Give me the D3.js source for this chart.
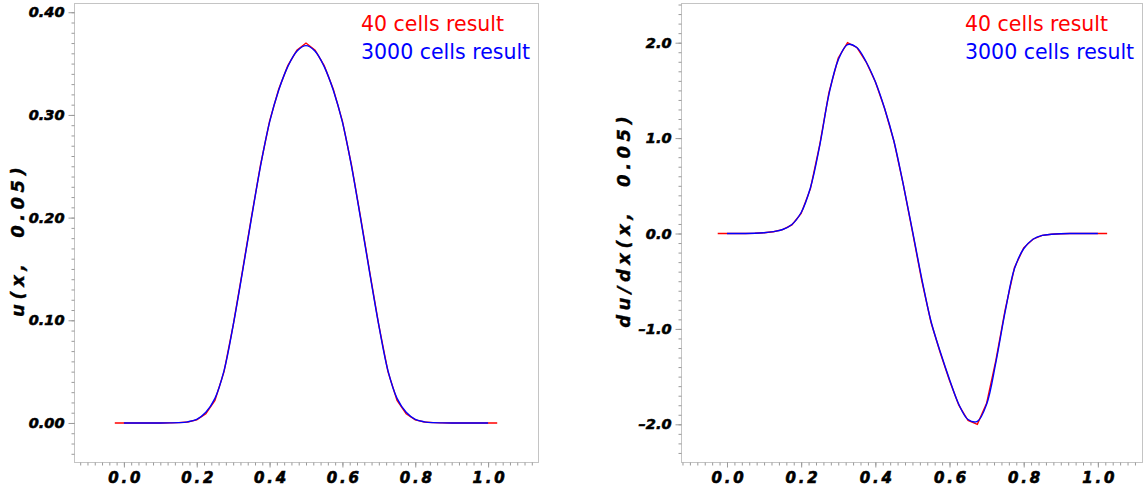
<!DOCTYPE html>
<html><head><meta charset="utf-8">
<script src="https://cdn.jsdelivr.net/npm/d3@7"></script>
<style>body{margin:0;background:#fff}svg{display:block}</style>
</head><body>
<svg id="c" width="1146" height="493"></svg>
<script>
// ---------- data ----------
const xRed  = [-0.025,0,0.025,0.05,0.075,0.1,0.125,0.15,0.175,0.2,0.225,0.25,0.275,0.3,0.325,0.35,0.375,0.4,0.425,0.45,0.475,0.5,
               0.525,0.55,0.575,0.6,0.625,0.65,0.675,0.7,0.725,0.75,0.775,0.8,0.825,0.85,0.875,0.9,0.925,0.95,0.975,1.0,1.025];
const xBlue = [0,0.025,0.05,0.075,0.1,0.125,0.15,0.175,0.2,0.225,0.25,0.275,0.3,0.325,0.35,0.375,0.4,0.425,0.45,0.475,0.5,
               0.525,0.55,0.575,0.6,0.625,0.65,0.675,0.7,0.725,0.75,0.775,0.8,0.825,0.85,0.875,0.9,0.925,0.95,0.975,1.0];

// u(x, 0.05)
const uRed  = [0, 0,0,0,0,0,0.0001,0.0003,0.0010,0.0030,0.0090,0.0220,0.0500,0.0950,0.1470,0.2000,0.2510,0.2940,0.3250,0.3480,0.3630,0.3700,
               0.3630,0.3480,0.3250,0.2940,0.2510,0.2000,0.1470,0.0950,0.0500,0.0220,0.0090,0.0030,0.0010,0.0003,0.0001,0,0,0,0,0, 0];
const uBlue = [0,0,0,0,0,0.0001,0.0003,0.0011,0.0036,0.0105,0.0240,0.0510,0.0950,0.1460,0.1990,0.2500,0.2930,0.3240,0.3470,0.3620,0.3675,
               0.3620,0.3470,0.3240,0.2930,0.2500,0.1990,0.1460,0.0950,0.0510,0.0240,0.0105,0.0036,0.0011,0.0003,0.0001,0,0,0,0,0];

// du/dx(x, 0.05)
const dRed  = [0, 0,0,0,0.002,0.008,0.018,0.040,0.090,0.21,0.47,0.93,1.48,1.84,2.00,1.95,1.80,1.59,1.31,0.97,0.52,0.02,
               -0.49,-0.93,-1.25,-1.54,-1.80,-1.96,-2.00,-1.78,-1.33,-0.80,-0.36,-0.15,-0.06,-0.02,-0.008,-0.002,0,0,0,0, 0];
const dBlue = [0,0,0,0.002,0.008,0.020,0.042,0.095,0.22,0.48,0.92,1.46,1.82,1.98,1.95,1.80,1.59,1.31,0.97,0.52,0.03,
               -0.47,-0.92,-1.24,-1.53,-1.79,-1.95,-1.97,-1.79,-1.35,-0.82,-0.37,-0.16,-0.06,-0.02,-0.008,-0.002,0,0,0,0];

const xTickValues = [0,0.2,0.4,0.6,0.8,1.0];
const xTickLabels = ["0.0","0.2","0.4","0.6","0.8","1.0"];
const uTickValues = [0,0.1,0.2,0.3,0.4];
const uTickLabels = ["0.00","0.10","0.20","0.30","0.40"];
const dTickValues = [-2,-1,0,1,2];
const dTickLabels = ["\u20132.0","\u20131.0","0.0","1.0","2.0"];
const seriesNames = ["40 cells result","3000 cells result"];
const seriesColors = ["#ff0000","#0000ff"];

// ---------- drawing ----------
const svg = d3.select("#c");

function panel(cfg){
  const x = d3.scaleLinear().domain(cfg.xDom).range([cfg.x0, cfg.x1]);
  const y = d3.scaleLinear().domain(cfg.yDom).range([cfg.y1, cfg.y0]);
  const g = svg.append("g");

  // frame
  g.append("rect").attr("x",cfg.x0+0.5).attr("y",cfg.y0+0.5)
    .attr("width",cfg.x1-cfg.x0).attr("height",cfg.y1-cfg.y0)
    .attr("fill","none").attr("stroke","#c4c4c4").attr("stroke-width",1);

  // minor ticks
  const xMinor = d3.range(-0.12, 1.1201, 0.02).filter(v=>v>=cfg.xDom[0]&&v<=cfg.xDom[1]);
  const yMinor = d3.range(cfg.yMinorStart, cfg.yDom[1], cfg.yMinorStep).filter(v=>v>=cfg.yDom[0]&&v<=cfg.yDom[1]);
  const gxm = g.append("g").attr("transform",`translate(0,${cfg.y1+0.5})`)
    .call(d3.axisBottom(x).tickValues(xMinor).tickSize(3).tickFormat(""));
  const gym = g.append("g").attr("transform",`translate(${cfg.x0+0.5},0)`)
    .call(d3.axisLeft(y).tickValues(yMinor).tickSize(3).tickFormat(""));
  // major ticks
  const gx = g.append("g").attr("transform",`translate(0,${cfg.y1+0.5})`)
    .call(d3.axisBottom(x).tickValues(xTickValues).tickSize(5).tickPadding(8)
      .tickFormat((d,i)=>xTickLabels[i]));
  const gy = g.append("g").attr("transform",`translate(${cfg.x0+0.5},0)`)
    .call(d3.axisLeft(y).tickValues(cfg.yTicks).tickSize(6).tickPadding(4)
      .tickFormat((d,i)=>cfg.yLabels[i]));
  [gxm,gym,gx,gy].forEach(a=>{
    a.select(".domain").remove();
    a.selectAll(".tick line").attr("stroke","#9a9a9a");
  });
  gx.selectAll("text").attr("font-family","'DejaVu Sans'").attr("font-weight","bold")
    .attr("font-style","italic").attr("font-size",15).attr("fill","#000")
    .attr("stroke","#000").attr("stroke-width",0.6)
    .style("letter-spacing","2.8px").attr("dx","1.4px").attr("y",10).attr("dy","0.71em");
  gy.selectAll("text").attr("font-family","'DejaVu Sans'").attr("font-weight","bold")
    .attr("font-style","italic").attr("font-size",14.5).attr("fill","#000")
    .attr("stroke","#000").attr("stroke-width",0.6);

  // axis title
  g.append("text").attr("transform",`translate(${cfg.titleX},${cfg.titleY}) rotate(-90)`)
    .attr("text-anchor","middle").attr("dy","0.35em").attr("dx","2.2px")
    .attr("font-family","'DejaVu Sans'").attr("font-weight","bold").attr("font-style","italic")
    .attr("font-size",18).style("letter-spacing","4.5px").attr("fill","#000")
    .attr("stroke","#000").attr("stroke-width",0.4)
    .attr("xml:space","preserve")
    .text(cfg.title);

  // lines
  const lineLin = d3.line().x(d=>x(d[0])).y(d=>y(d[1]));
  const lineSm = d3.line().x(d=>x(d[0])).y(d=>y(d[1])).curve(d3.curveCatmullRom.alpha(0.5));
  g.append("path").datum(d3.zip(xRed, cfg.red)).attr("d",lineLin)
    .attr("fill","none").attr("stroke",seriesColors[0]).attr("stroke-width",1.4);
  g.append("path").datum(d3.zip(xBlue, cfg.blue)).attr("d",lineSm)
    .attr("fill","none").attr("stroke",seriesColors[1]).attr("stroke-width",1.4);

  // legend
  seriesNames.forEach((n,i)=>{
    g.append("text").attr("x",cfg.legX).attr("y",30.5+i*28.5)
      .attr("font-family","'DejaVu Sans'").attr("font-size",20.5)
      .attr("fill",seriesColors[i]).text(n);
  });
}

panel({x0:74,x1:538,y0:3,y1:462, xDom:[-0.137,1.137], yDom:[-0.038,0.409],
  yTicks:uTickValues, yLabels:uTickLabels, yMinorStart:-0.03, yMinorStep:0.01,
  red:uRed, blue:uBlue, title:"u(x,  0.05)", titleX:17.5, titleY:242, legX:361});
panel({x0:681,x1:1142,y0:3,y1:462, xDom:[-0.124,1.119], yDom:[-2.395,2.416],
  yTicks:dTickValues, yLabels:dTickLabels, yMinorStart:-2.3, yMinorStep:0.1,
  red:dRed, blue:dBlue, title:"du/dx(x,  0.05)", titleX:624, titleY:222, legX:965});
</script>
</body></html>
